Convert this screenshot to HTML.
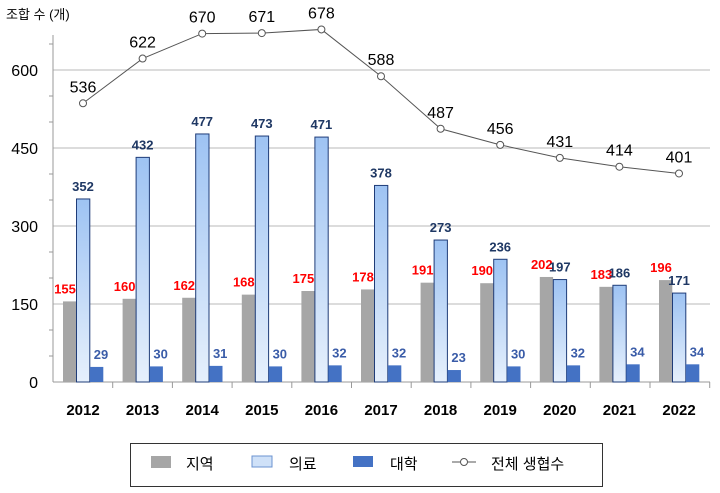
<!DOCTYPE html><html><head><meta charset="utf-8"><style>body{margin:0;background:#fff}svg{display:block}text{font-family:"Liberation Sans","Noto Sans CJK KR",sans-serif}</style></head><body>
<svg width="720" height="493" viewBox="0 0 720 493">
<defs><linearGradient id="g" x1="0" y1="0" x2="0" y2="1"><stop offset="0" stop-color="#9ec3f3"/><stop offset="1" stop-color="#e6f0fc"/></linearGradient></defs>
<text x="6" y="19" font-size="13" fill="#000">조합 수 (개)</text>
<g stroke="#c8c8c8" stroke-width="1.2"><line x1="53" y1="304" x2="710" y2="304"/><line x1="53" y1="226" x2="710" y2="226"/><line x1="53" y1="148" x2="710" y2="148"/><line x1="53" y1="70" x2="710" y2="70"/></g>
<g stroke="#999" stroke-width="1"><line x1="53" y1="35" x2="53" y2="382"/><line x1="53" y1="382" x2="710" y2="382"/>
<line x1="49" y1="44" x2="53" y2="44"/><line x1="49" y1="96" x2="53" y2="96"/><line x1="49" y1="122" x2="53" y2="122"/><line x1="49" y1="174" x2="53" y2="174"/><line x1="49" y1="200" x2="53" y2="200"/><line x1="49" y1="252" x2="53" y2="252"/><line x1="49" y1="278" x2="53" y2="278"/><line x1="49" y1="330" x2="53" y2="330"/><line x1="49" y1="356" x2="53" y2="356"/>
</g>
<g font-size="16" text-anchor="end" fill="#000"><text x="38" y="388">0</text><text x="38" y="310">150</text><text x="38" y="232">300</text><text x="38" y="154">450</text><text x="38" y="76">600</text></g>
<g id="bars"></g>
<polyline id="ln" fill="none" stroke="#555" stroke-width="1"/>
<g id="mk"></g>
<rect x="130.5" y="443.5" width="472" height="43" fill="#fff" stroke="#333" stroke-width="1"/>
<rect x="151" y="456" width="20" height="12" fill="#a6a6a6"/><text x="186" y="469" font-size="15">지역</text>
<rect x="252" y="456" width="20" height="11" fill="#cfe1f8" stroke="#6b93d0"/><text x="289" y="469" font-size="15">의료</text>
<rect x="353" y="456" width="20" height="11" fill="#4472c4"/><text x="390" y="469" font-size="15">대학</text>
<line x1="452" y1="462" x2="476" y2="462" stroke="#555"/><circle cx="464" cy="462" r="3.5" fill="#fff" stroke="#555"/><text x="491" y="469" font-size="15">전체 생협수</text>
</svg>
<script>
var yrs=[2012,2013,2014,2015,2016,2017,2018,2019,2020,2021,2022],
a=[155,160,162,168,175,178,191,190,202,183,196],
b=[352,432,477,473,471,378,273,236,197,186,171],
c=[29,30,31,30,32,32,23,30,32,34,34],
t=[536,622,670,671,678,588,487,456,431,414,401];
var ns="http://www.w3.org/2000/svg",s=document.querySelector('svg'),g=document.getElementById('bars'),m=document.getElementById('mk');
function el(p,n,at,tx){var e=document.createElementNS(ns,n);for(var k in at)e.setAttribute(k,at[k]);if(tx!==undefined)e.textContent=tx;p.appendChild(e);return e}
function Y(v){return 382-v*0.52}
var pts=[];
for(var i=0;i<11;i++){var cx=83+i*59.6;
el(g,'line',{x1:53+(i+1)*59.7,y1:382,x2:53+(i+1)*59.7,y2:388,stroke:'#999'});
el(g,'rect',{x:cx-20,y:Y(a[i]),width:13.3,height:a[i]*0.52,fill:'#a6a6a6'});
el(g,'rect',{x:cx-6.5,y:Y(b[i]),width:13.3,height:b[i]*0.52,fill:'url(#g)',stroke:'#1f3c78','stroke-width':1});
el(g,'rect',{x:cx+7,y:Y(c[i]),width:13.3,height:c[i]*0.52,fill:'#4472c4'});
el(g,'text',{x:cx-18,y:Y(a[i])-8,'font-size':13,'font-weight':'bold',fill:'#ff0000','text-anchor':'middle'},a[i]);
el(g,'text',{x:cx,y:Y(b[i])-8,'font-size':13,'font-weight':'bold',fill:'#1f3864','text-anchor':'middle'},b[i]);
el(g,'text',{x:cx+18,y:Y(c[i])-8,'font-size':13,'font-weight':'bold',fill:'#3a5ca8','text-anchor':'middle'},c[i]);
el(g,'text',{x:cx,y:415,'font-size':15,'font-weight':'bold','text-anchor':'middle'},yrs[i]);
pts.push(cx+','+Y(t[i]));
el(m,'circle',{cx:cx,cy:Y(t[i]),r:3.5,fill:'#fff',stroke:'#555'});
el(m,'text',{x:cx,y:Y(t[i])-11,'font-size':16,'text-anchor':'middle'},t[i]);
}
document.getElementById('ln').setAttribute('points',pts.join(' '));
</script>
</body></html>
